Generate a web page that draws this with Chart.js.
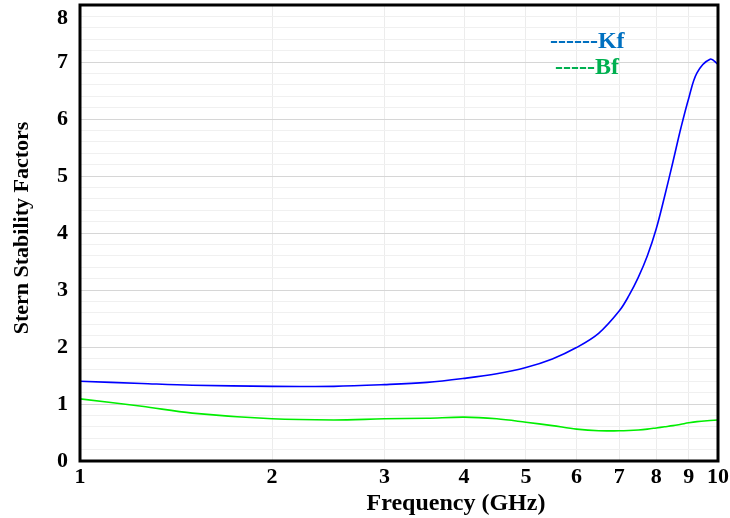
<!DOCTYPE html>
<html>
<head>
<meta charset="utf-8">
<script src="https://cdn.jsdelivr.net/npm/chart.js@4.4.1/dist/chart.umd.min.js"></script>
<style>
  html, body { margin: 0; padding: 0; background: #fff; }
  #wrap { width: 730px; height: 518px; }
</style>
</head>
<body>
<div id="wrap"><canvas id="myChart" width="730" height="518"></canvas></div>
<script>
// frequency points (GHz) and the two stability factors
const freq = [1, 1.25, 1.5, 2, 2.5, 3, 3.5, 4, 4.5, 5, 5.5, 6, 6.5, 7, 7.25, 7.5, 7.75, 8, 8.25, 8.5, 8.75, 9, 9.27, 9.72, 10];
const kf   = [1.40, 1.36, 1.33, 1.31, 1.31, 1.34, 1.38, 1.45, 1.53, 1.64, 1.79, 1.99, 2.24, 2.63, 2.90, 3.22, 3.60, 4.07, 4.65, 5.25, 5.85, 6.37, 6.81, 7.05, 6.96];
const bf   = [1.09, 0.96, 0.84, 0.74, 0.72, 0.74, 0.75, 0.77, 0.74, 0.68, 0.62, 0.56, 0.53, 0.53, 0.535, 0.545, 0.56, 0.58, 0.60, 0.62, 0.645, 0.67, 0.69, 0.71, 0.72];
const xTicks = [1, 2, 3, 4, 5, 6, 7, 8, 9, 10];

const serif = "'Liberation Serif', 'Times New Roman', serif";

function pts(ys) {
  return freq.map((f, i) => ({ x: f, y: ys[i] }));
}

const isMajor = v => Math.abs(v - Math.round(v)) < 1e-6;

// frame, axis titles and the text legend
const decor = {
  id: 'decor',
  afterDraw(chart) {
    const ctx = chart.ctx;
    const a = chart.chartArea;
    ctx.save();
    ctx.strokeStyle = '#000';
    ctx.lineWidth = 3;
    ctx.strokeRect(a.left, a.top, a.right - a.left, a.bottom - a.top);

    ctx.fillStyle = '#000';
    ctx.textAlign = 'center';
    ctx.textBaseline = 'alphabetic';
    ctx.font = "bold 24px " + serif;
    ctx.fillText('Frequency (GHz)', 456, 510);

    ctx.font = "bold 22px " + serif;
    ctx.translate(28, 228);
    ctx.rotate(-Math.PI / 2);
    ctx.fillText('Stern Stability Factors', 0, 0);
    ctx.restore();

    ctx.save();
    ctx.font = "bold 24px " + serif;
    ctx.textAlign = 'left';
    ctx.fillStyle = '#0070C0';
    ctx.fillText('------Kf', 550, 48);
    ctx.fillStyle = '#00B050';
    ctx.fillText('-----Bf', 555, 74);
    ctx.restore();
  }
};

new Chart("myChart", {
  type: "line",
  data: {
    datasets: [
      { label: "Kf", data: pts(kf), borderColor: "#0000ff", borderWidth: 1.6,
        pointRadius: 0, tension: 0.35, fill: false },
      { label: "Bf", data: pts(bf), borderColor: "#00ee00", borderWidth: 1.6,
        pointRadius: 0, tension: 0.35, fill: false }
    ]
  },
  options: {
    responsive: false,
    animation: false,
    layout: { padding: { top: 5, right: 12, left: 0, bottom: 0 } },
    plugins: {
      legend: { display: false },
      tooltip: { enabled: false }
    },
    scales: {
      x: {
        type: "logarithmic",
        min: 1,
        max: 10,
        afterBuildTicks: s => { s.ticks = xTicks.map(v => ({ value: v })); },
        afterFit: s => { s.height = 57; s.paddingLeft = 0; s.paddingRight = 0; },
        ticks: {
          autoSkip: false, maxRotation: 0, padding: 3, color: "#000",
          font: { family: serif, size: 22, weight: "bold" },
          callback: v => String(v)
        },
        grid: { color: "#ececec", drawTicks: false },
        border: { display: false }
      },
      y: {
        min: 0,
        max: 8,
        afterFit: s => { s.width = 80; s.paddingTop = 0; s.paddingBottom = 0; },
        ticks: {
          stepSize: 0.2, autoSkip: false, padding: 12, color: "#000",
          font: { family: serif, size: 22, weight: "bold" },
          // top label sits a little lower so it stays inside the canvas
          callback: v => isMajor(v) ? (Math.round(v) === 8 ? ["", "8"] : String(Math.round(v))) : ""
        },
        grid: {
          drawTicks: false,
          color: c => (c.tick && isMajor(c.tick.value)) ? "#d6d6d6" : "#f0f0f0"
        },
        border: { display: false }
      }
    }
  },
  plugins: [decor]
});
</script>
</body>
</html>
